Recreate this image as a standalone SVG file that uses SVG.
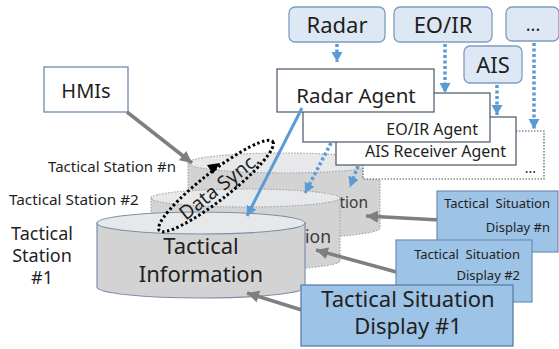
<svg xmlns="http://www.w3.org/2000/svg" width="559" height="349" viewBox="0 0 559 349">
  <style>
    text { font-family: "Noto Sans", "Noto Sans CJK KR", sans-serif; fill: #1f1f1f; }
    .cyl-body { fill: #d3d3d3; }
    .cyl-top { fill: #e7e8ea; }
    .cyl-front { stroke: #7d90a8; stroke-width: 1.2; }
    .cyl-back { stroke: #a5a9b0; stroke-width: 1.2; stroke-dasharray: 1.5 1.5; }
    .sensor { fill: #dde8f4; stroke: #7f9cc0; stroke-width: 1.3; }
    .agent { fill: #ffffff; stroke: #4a5566; stroke-width: 1.2; }
    .hmi { fill: #ffffff; stroke: #6f8cb0; stroke-width: 1.3; }
    .tsd { fill: #9dc3e6; stroke: #6d8eb3; stroke-width: 1.2; }
    .feed { fill: none; stroke: #5b9bd5; stroke-width: 3.5; stroke-dasharray: 3 2.5; marker-end: url(#blueHead); }
    .link { fill: none; stroke: #5b9bd5; stroke-width: 3; marker-end: url(#blueHead); }
    .input { fill: none; stroke: #7f7f7f; stroke-width: 3.5; marker-end: url(#grayHead); }
    .sync { fill: none; stroke: #000000; stroke-width: 3; stroke-dasharray: 2.5 2.5; }
    .db-label { fill: #3a3a3a; }
  </style>
  <defs>
    <marker id="blueHead" markerUnits="userSpaceOnUse" markerWidth="12" markerHeight="12" refX="10" refY="6" orient="auto">
      <path d="M0,0.5 L10,6 L0,11.5 Z" fill="#5b9bd5"/>
    </marker>
    <marker id="grayHead" markerUnits="userSpaceOnUse" markerWidth="14" markerHeight="14" refX="12" refY="7" orient="auto">
      <path d="M0,1 L12,7 L0,13 Z" fill="#7f7f7f"/>
    </marker>
  </defs>

  <rect width="559" height="349" fill="#ffffff"/>

  <!-- Tactical Station #n database (back) -->
  <g id="station-n-db">
    <path class="cyl-body cyl-back" d="M188,163 L188,228 A96,10 0 0 0 380,228 L380,163 Z"/>
    <ellipse class="cyl-top cyl-back" cx="284" cy="163" rx="96" ry="10"/>
    <text class="db-label" x="368" y="208" font-size="15.5" text-anchor="end">tion</text>
  </g>

  <!-- Tactical Station #2 database (middle) -->
  <g id="station-2-db">
    <path class="cyl-body cyl-back" d="M151,198 L151,261 A94.5,9 0 0 0 340,261 L340,198 Z"/>
    <ellipse class="cyl-top cyl-back" cx="245.5" cy="198" rx="94.5" ry="9"/>
    <text class="db-label" x="331" y="243" font-size="17.5" text-anchor="end">tion</text>
  </g>

  <!-- Tactical Station #1 database (front) -->
  <g id="station-1-db">
    <path class="cyl-body cyl-front" d="M97,223 L97,287 A104,11 0 0 0 305,287 L305,223 Z"/>
    <ellipse class="cyl-top cyl-front" cx="201" cy="223" rx="104" ry="11"/>
    <text x="201" y="254" font-size="22" text-anchor="middle">Tactical</text>
    <text x="201" y="282" font-size="22" text-anchor="middle">Information</text>
  </g>

  <!-- Station labels -->
  <g id="station-labels">
    <text x="48" y="172" font-size="15">Tactical Station #n</text>
    <text x="9" y="205" font-size="15.3">Tactical Station #2</text>
    <text x="42" y="240" font-size="18" text-anchor="middle">Tactical</text>
    <text x="42" y="262" font-size="18" text-anchor="middle">Station</text>
    <text x="42" y="284" font-size="18" text-anchor="middle">#1</text>
  </g>

  <!-- HMIs -->
  <g id="hmis">
    <rect class="hmi" x="44" y="67" width="84" height="45"/>
    <text x="86" y="98" font-size="20" text-anchor="middle">HMIs</text>
  </g>

  <!-- Agents -->
  <g id="other-agent">
    <rect x="363" y="131" width="181" height="48" fill="#ffffff" stroke="#4a5566" stroke-width="1.2" stroke-dasharray="1.5 1.5"/>
    <text x="536" y="173" font-size="14" text-anchor="end">...</text>
  </g>
  <g id="ais-agent">
    <rect class="agent" x="336" y="117" width="180" height="48"/>
    <text x="506" y="157" font-size="16" text-anchor="end">AIS Receiver Agent</text>
  </g>
  <g id="eoir-agent">
    <rect class="agent" x="303" y="93" width="187" height="49"/>
    <text x="478" y="135" font-size="16" text-anchor="end">EO/IR Agent</text>
  </g>
  <g id="radar-agent">
    <rect class="agent" x="277" y="69" width="157" height="43"/>
    <text x="356" y="103" font-size="20.5" text-anchor="middle">Radar Agent</text>
  </g>

  <!-- Sensors -->
  <g id="radar">
    <rect class="sensor" x="289" y="7" width="96" height="35" rx="6"/>
    <text x="337" y="33" font-size="22" text-anchor="middle">Radar</text>
  </g>
  <g id="eoir">
    <rect class="sensor" x="394" y="7" width="98" height="35" rx="6"/>
    <text x="443" y="33" font-size="22" text-anchor="middle">EO/IR</text>
  </g>
  <g id="more-sensors">
    <rect class="sensor" x="506" y="7" width="53" height="34" rx="6"/>
    <text x="533" y="31" font-size="18" text-anchor="middle">...</text>
  </g>
  <g id="ais">
    <rect class="sensor" x="464" y="46" width="58" height="37" rx="6"/>
    <text x="493" y="73" font-size="22" text-anchor="middle">AIS</text>
  </g>

  <!-- Connectors -->
  <g id="connectors">
    <path class="feed" d="M337,44 L337,62"/>
    <path class="feed" d="M445,44 L445,93"/>
    <path class="feed" d="M497,85 L497,115"/>
    <path class="feed" d="M534,43 L534,129"/>
    <path class="feed" d="M331,143 L305,193"/>
    <path class="feed" d="M358,166 L350,187"/>
    <path class="link" d="M302,108 L247,216"/>
    <path class="input" d="M127,112 L192,163"/>
    <path class="input" d="M440,220 L366,216"/>
    <path class="input" d="M400,273 L316,250"/>
    <path class="input" d="M305,311 L247,293"/>
    <g id="data-sync">
      <ellipse class="sync" cx="216" cy="186" rx="72" ry="14" transform="rotate(-38 216 186)"/>
      <path d="M220,163 L207,165 L213,174 Z" fill="#000000"/>
      <text x="219" y="193" font-size="19.5" text-anchor="middle" transform="rotate(-38 219 186)">Data Sync.</text>
    </g>
  </g>

  <!-- Tactical Situation Displays -->
  <g id="tsd-n">
    <rect class="tsd" x="437" y="191" width="121" height="61"/>
    <text x="550" y="208" font-size="13" text-anchor="end" xml:space="preserve">Tactical  Situation</text>
    <text x="550" y="232" font-size="13" text-anchor="end">Display #n</text>
  </g>
  <g id="tsd-2">
    <rect class="tsd" x="396" y="240" width="136" height="62"/>
    <text x="520" y="259" font-size="13" text-anchor="end" xml:space="preserve">Tactical  Situation</text>
    <text x="520" y="280" font-size="13" text-anchor="end">Display #2</text>
  </g>
  <g id="tsd-1">
    <rect x="301" y="285" width="212" height="61" fill="#9dc3e6" stroke="#5a7fa8" stroke-width="1.3"/>
    <text x="408" y="307" font-size="22" text-anchor="middle">Tactical Situation</text>
    <text x="408" y="334" font-size="22" text-anchor="middle">Display #1</text>
  </g>
</svg>
